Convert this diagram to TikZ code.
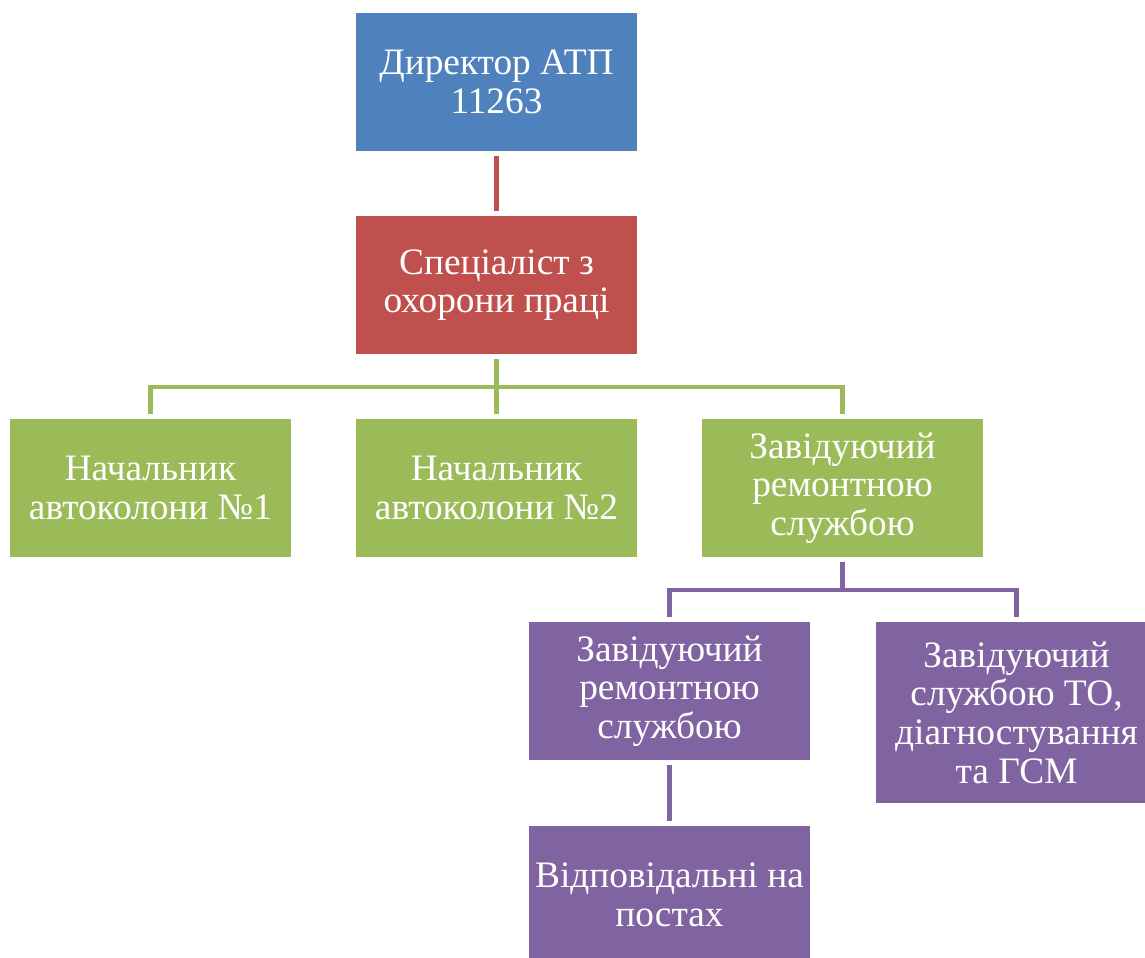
\documentclass[tikz,border=0pt]{standalone}
\usepackage{fontspec}
\setmainfont{Liberation Serif}
\usepackage{tikz}
\usetikzlibrary{positioning}
\definecolor{accblue}{HTML}{4F81BD}
\definecolor{accred}{HTML}{C0504D}
\definecolor{accgreen}{HTML}{9BBB59}
\definecolor{accpurple}{HTML}{8064A2}

\begin{document}
\begin{tikzpicture}
	[
	x=0.75pt, y=-0.75pt,
	box/.style = {fill=#1, text=white, align=center, inner sep=2pt,
		minimum width=210.75pt, minimum height=103.5pt,
		font=\fontsize{28}{29}\selectfont},
	link/.style = {draw=#1, line width=3.4pt, shorten <=3.75pt, shorten >=3.75pt}
	]
	\useasboundingbox (0,0) rectangle (1145,957);
	\clip (0,0) rectangle (1145,957);
	\node[box=accblue] (dir) at (496.5,82) {Директор АТП\\11263};
	\node[box=accred] (spec) at (496.5,285) {Спеціаліст з\\охорони праці};
	\node[box=accgreen] (col1) at (150.5,488) {Начальник\\автоколони №1};
	\node[box=accgreen] (col2) at (496.5,488) {Начальник\\автоколони №2};
	\node[box=accgreen] (rem) at (842.5,488) {Завідуючий\\ремонтною\\службою};
	\node[box=accpurple] (rem2) at (669.5,691) {Завідуючий\\ремонтною\\службою};
	\node[box=accpurple, minimum height=135.75pt] (diag) at (1016.5,712.5) {Завідуючий\\службою ТО,\\діагностування\\та ГСМ};
	\node[box=accpurple] (post) at (669.5,895) {Відповідальні на\\постах};
	\draw[link=accred] (dir) -- (spec);
	\draw[link=accgreen] (spec.south) -- ++(0,32.5) -| (col1.north);
	\draw[link=accgreen] (spec.south) -- (col2.north);
	\draw[link=accgreen] (spec.south) -- ++(0,32.5) -| (rem.north);
	\draw[link=accpurple] (rem.south) -- ++(0,32.5) -| (rem2.north);
	\draw[link=accpurple] (rem.south) -- ++(0,32.5) -| (diag.north);
	\draw[link=accpurple] (rem2) -- (post);
\end{tikzpicture}
\end{document}
